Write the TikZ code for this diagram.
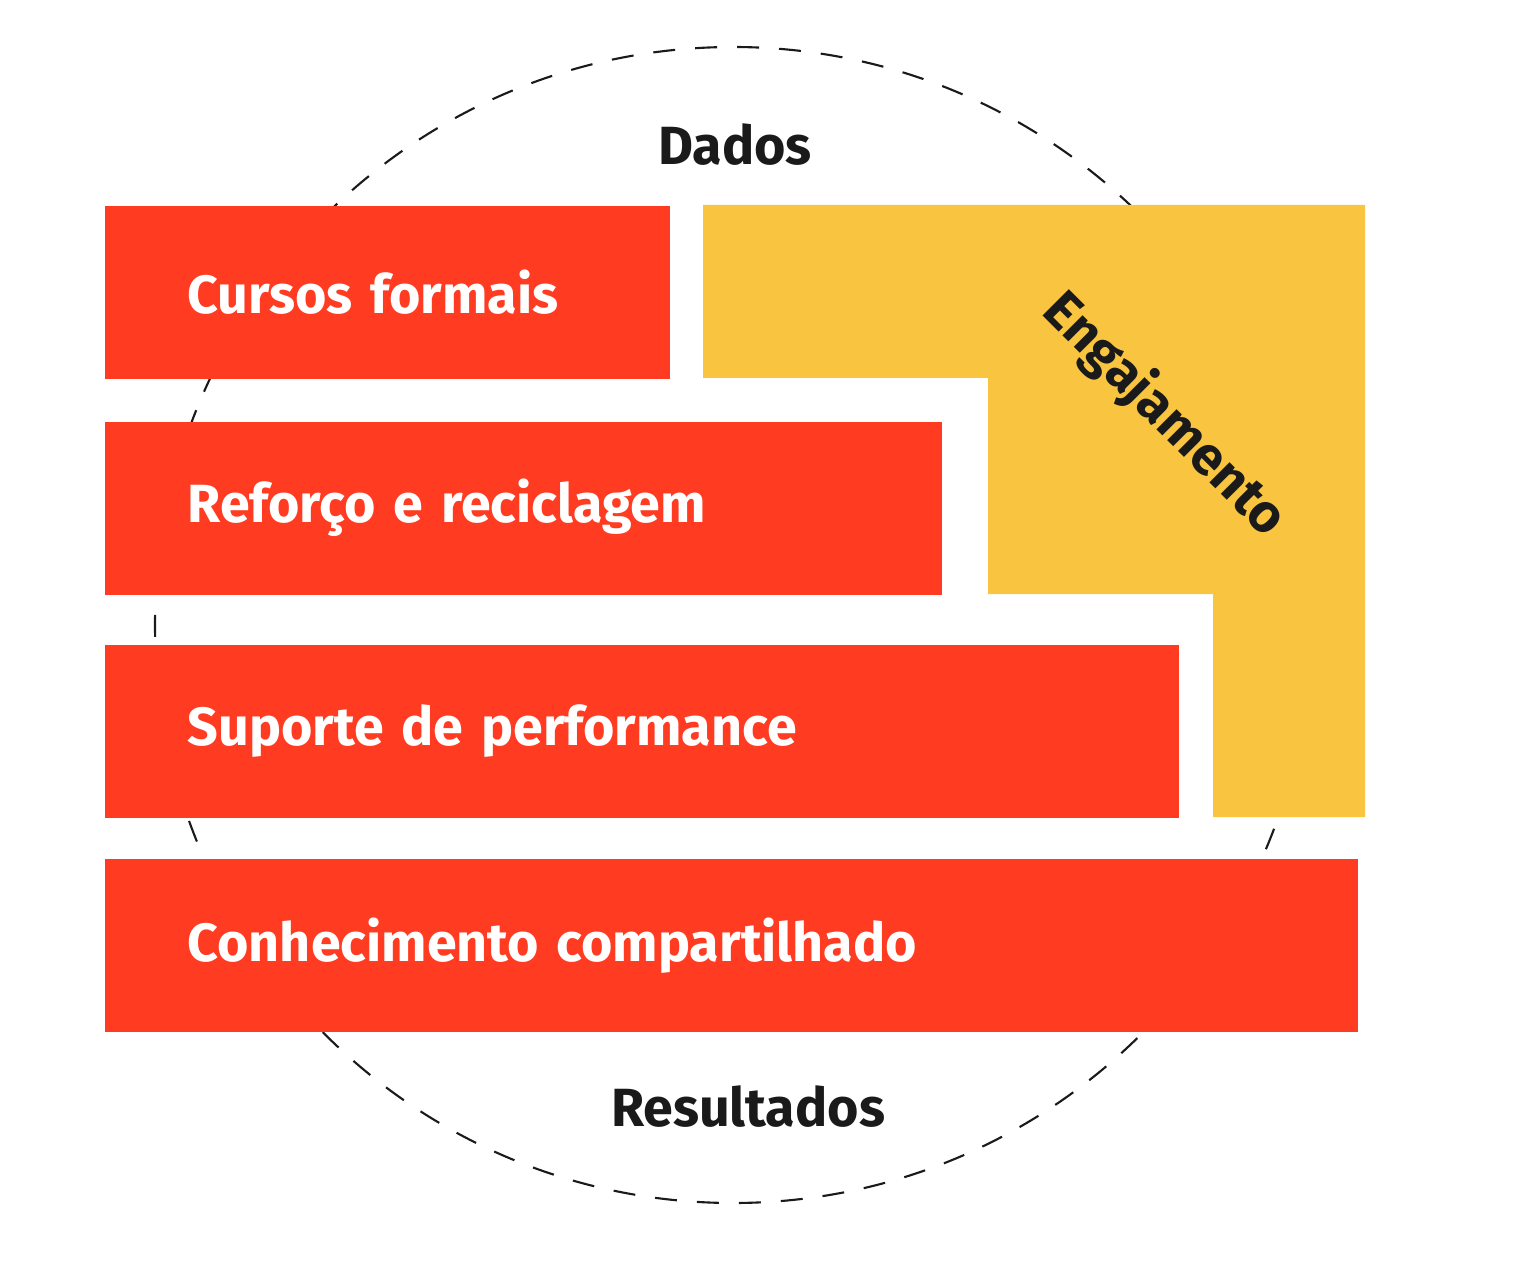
\documentclass[tikz,border=0pt]{standalone}
\usepackage{fontspec}
\setmainfont{Fira Sans}
\usetikzlibrary{positioning}
\definecolor{barred}{HTML}{FF3C22}
\definecolor{engyellow}{HTML}{F9C440}
\definecolor{inkdark}{HTML}{1A1A1A}
\tikzset{bar/.style={fill=barred, text=white, anchor=north west, minimum height=1.73cm,
  inner xsep=0.83cm, inner ysep=0pt, align=left, font=\fontsize{15.3}{18}\selectfont\bfseries}}
\tikzset{lbl/.style={text=inkdark, inner sep=0pt, font=\fontsize{15.3}{18}\selectfont\bfseries}}
\tikzset{ring/.style={draw=inkdark, line width=0.6pt, dash pattern=on 0.22cm off 0.2cm}}

\begin{document}
\begin{tikzpicture}
\useasboundingbox (0,0) rectangle (15.38,-12.79);

\draw[ring] (7.33,-6.25) circle (5.78);

\node[bar, minimum width=5.65cm, text width=3.99cm] (cursos) at (1.04,-2.05) {Cursos formais};
\node[bar, minimum width=8.37cm, text width=6.71cm] (reforco) at (1.04,-4.21) {Reforço e reciclagem};
\node[bar, minimum width=10.74cm, text width=9.08cm] (suporte) at (1.04,-6.44) {Suporte de performance};
\node[bar, minimum width=12.53cm, text width=10.87cm] (conhec) at (1.04,-8.58) {Conhecimento compartilhado};

\fill[engyellow] (7.03,-2.05) -- (13.65,-2.05) -- (13.65,-8.17) -- (12.13,-8.17)
  -- (12.13,-5.94) -- (9.88,-5.94) -- (9.88,-3.78) -- (7.03,-3.78) -- cycle;
\node[lbl, rotate=-45] (engaj) at (11.64,-4.15) {Engajamento};

\node[lbl] (dados) at (7.35,-1.45) {Dados};
\node[lbl] (result) at (7.48,-11.07) {Resultados};
\end{tikzpicture}
\end{document}
